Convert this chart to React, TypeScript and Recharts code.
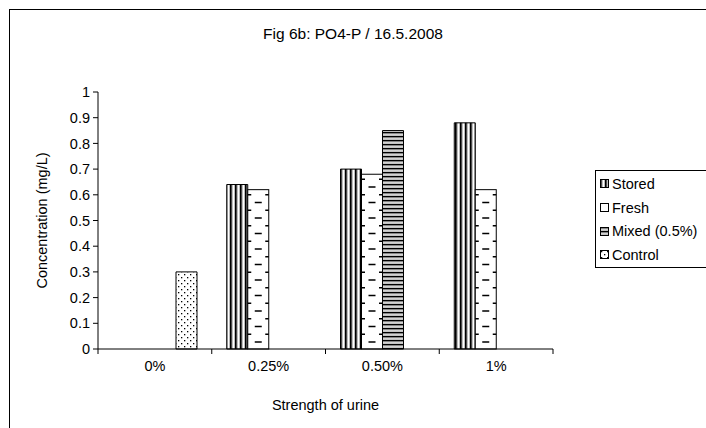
import { BarChart, Bar, XAxis, YAxis, Label } from 'recharts';

const categories = ['0%', '0.25%', '0.50%', '1%'];
const storedValues = [null, 0.64, 0.7, 0.88];
const freshValues = [null, 0.62, 0.68, 0.62];
const mixedValues = [null, null, 0.85, null];
const controlValues = [0.3, null, null, null];
const yTicks = [0, 0.1, 0.2, 0.3, 0.4, 0.5, 0.6, 0.7, 0.8, 0.9, 1];

const seriesNames = ['Stored', 'Fresh', 'Mixed (0.5%)', 'Control'];
const seriesFills = ['url(#pStored)', '#ffffff', 'url(#pMixed)', 'url(#pControl)'];

const data = categories.map((c, i) => ({
  name: c,
  stored: storedValues[i],
  fresh: freshValues[i],
  mixed: mixedValues[i],
  control: controlValues[i],
}));

const font = 'Liberation Sans, Arial, sans-serif';
const fs = 14.5;
const W = 706;
const H = 428;
const margin = { top: 92, right: 153, bottom: 49, left: 38 };
const yAxisWidth = 60;
const plotW = W - margin.left - margin.right - yAxisWidth;
const band = plotW / categories.length;

// fresh bars: white with staggered short dashes
const FreshShape = (props: any) => {
  const { x, y, width, height } = props;
  if (!height || height <= 0) return null;
  const bottom = y + height;
  const marks = [];
  for (let k = 0; ; k++) {
    const cy = bottom - 7 - k * 15.5;
    const ey = bottom - 14.75 - k * 15.5;
    if (cy > y + 2) {
      marks.push(<rect key={'c' + k} x={x + width / 2 - 3.5} y={cy - 0.75} width={7} height={1.5} fill="#000" />);
    }
    if (ey > y + 2) {
      marks.push(<rect key={'l' + k} x={x} y={ey - 0.75} width={3.5} height={1.5} fill="#000" />);
      marks.push(<rect key={'r' + k} x={x + width - 3.5} y={ey - 0.75} width={3.5} height={1.5} fill="#000" />);
    }
    if (cy <= y + 2 && ey <= y + 2) break;
  }
  return (
    <g>
      <rect x={x} y={y} width={width} height={height} fill="#fff" stroke="#000" strokeWidth={1} />
      {marks}
    </g>
  );
};

const XTick = (props: any) => {
  const { x, y, payload, index } = props;
  const axisY = y - 5;
  return (
    <g>
      <line x1={x - band / 2} x2={x - band / 2} y1={axisY} y2={axisY + 5} stroke="#000" />
      {index === categories.length - 1 && (
        <line x1={x + band / 2} x2={x + band / 2} y1={axisY} y2={axisY + 5} stroke="#000" />
      )}
      <text x={x} y={axisY + 22} textAnchor="middle" fontSize={fs} fontFamily={font} fill="#000">
        {payload.value}
      </text>
    </g>
  );
};

const LegendBox = () => (
  <div
    style={{
      position: 'absolute',
      left: 595,
      top: 170,
      border: '1px solid #000',
      width: 130,
      padding: '1px 0 0 4px',
      fontFamily: font,
      fontSize: fs,
      background: '#fff',
    }}
  >
    {seriesNames.map((n, i) => (
      <div key={n} style={{ display: 'flex', alignItems: 'center', height: 23.7 }}>
        <svg width={9} height={9} style={{ marginRight: 3 }}>
          <rect x={0.5} y={0.5} width={8} height={8} fill={seriesFills[i]} stroke="#000" />
        </svg>
        <span style={{ whiteSpace: 'nowrap' }}>{n}</span>
      </div>
    ))}
  </div>
);

export default function App() {
  return (
    <div style={{ position: 'absolute', left: 0, top: 0, width: W, height: H, background: '#fff', overflow: 'hidden' }}>
      <div
        style={{
          position: 'absolute',
          left: 9,
          top: 9,
          width: W,
          height: H,
          borderTop: '1.5px solid #000',
          borderLeft: '1.5px solid #000',
        }}
      />
      <div
        style={{
          position: 'absolute',
          left: 0,
          top: 25,
          width: W,
          textAlign: 'center',
          fontFamily: font,
          fontSize: 15.5,
        }}
      >
        Fig 6b: PO4-P / 16.5.2008
      </div>
      <div style={{ position: 'absolute', left: 0, top: 0 }}>
        <BarChart width={W} height={H} data={data} margin={margin} barGap={0} barSize={21}>
          <defs>
            <pattern id="pStored" width="5" height="4" patternUnits="userSpaceOnUse">
              <rect width="5" height="4" fill="#bdbdbd" />
              <rect x="0" width="1.6" height="4" fill="#000" />
              <rect x="3" width="1" height="4" fill="#fff" />
            </pattern>
            <pattern id="pMixed" width="4" height="4" patternUnits="userSpaceOnUse">
              <rect width="4" height="4" fill="#a8a8a8" />
              <rect y="0" width="4" height="1.2" fill="#000" />
              <rect y="2.4" width="4" height="1" fill="#eee" />
            </pattern>
            <pattern id="pControl" width="6" height="6" patternUnits="userSpaceOnUse">
              <rect width="6" height="6" fill="#fff" />
              <rect x="1" y="1" width="1.3" height="1.3" fill="#000" />
              <rect x="4" y="4" width="1.3" height="1.3" fill="#000" />
            </pattern>
          </defs>
          <XAxis
            dataKey="name"
            axisLine={{ stroke: '#000' }}
            tickLine={false}
            tickSize={5}
            tickMargin={0}
            height={30}
            tick={<XTick />}
            interval={0}
          >
            <Label
              content={() => (
                <text x={margin.left + yAxisWidth + plotW / 2} y={410} textAnchor="middle" fontSize={fs} fontFamily={font} fill="#000">
                  Strength of urine
                </text>
              )}
            />
          </XAxis>
          <YAxis
            domain={[0, 1]}
            ticks={yTicks}
            interval={0}
            width={yAxisWidth}
            axisLine={{ stroke: '#000' }}
            tickLine={{ stroke: '#000' }}
            tickSize={5}
            tickMargin={3}
            tick={{ fontSize: fs, fontFamily: font, fill: '#000' }}
          >
            <Label
              content={(p: any) => {
                const vb = p.viewBox || { y: 92, height: 257 };
                const cy = vb.y + vb.height / 2;
                return (
                  <text x={47} y={cy} transform={`rotate(-90 47 ${cy})`} textAnchor="middle" fontSize={fs} fontFamily={font} fill="#000">
                    Concentration (mg/L)
                  </text>
                );
              }}
            />
          </YAxis>
          <Bar dataKey="stored" name="Stored" fill="url(#pStored)" stroke="#000" isAnimationActive={false} />
          <Bar dataKey="fresh" name="Fresh" fill="#fff" shape={<FreshShape />} isAnimationActive={false} />
          <Bar dataKey="mixed" name="Mixed (0.5%)" fill="url(#pMixed)" stroke="#000" isAnimationActive={false} />
          <Bar dataKey="control" name="Control" fill="url(#pControl)" stroke="#000" isAnimationActive={false} />
        </BarChart>
      </div>
      <LegendBox />
    </div>
  );
}
